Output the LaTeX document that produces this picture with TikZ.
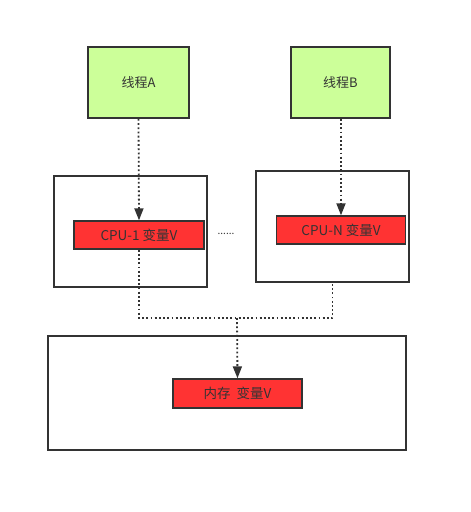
\documentclass[tikz,border=0pt]{standalone}
\usepackage{fontspec}
\newfontfamily\cjk{Noto Sans CJK SC}
\usepackage{xcolor}
\usetikzlibrary{arrows.meta}

\definecolor{threadgreen}{HTML}{CCFF99}
\definecolor{varred}{HTML}{FF3333}
\definecolor{edge}{HTML}{333333}

\tikzset{
  thread/.style={draw=edge, line width=1.8pt, fill=threadgreen,
                 minimum width=101pt, minimum height=71pt, inner sep=0pt,
                 font=\cjk\fontsize{13}{15}\selectfont, text=edge},
  outerbox/.style={draw=edge, line width=1.8pt, fill=white, inner sep=0pt},
  varbox/.style={draw=edge, line width=1.4pt, fill=varred,
                 minimum width=129pt, minimum height=28pt, inner sep=0pt,
                 font=\cjk\fontsize{13.5}{15}\selectfont, text=edge},
  link/.style={edge, line width=1.8pt, dash pattern=on 1.8pt off 2.4pt},
  tip/.style={-{Triangle[length=12pt, width=9pt]}}
}

\begin{document}
\begin{tikzpicture}[x=1pt, y=-1pt]
  \useasboundingbox (0,0) rectangle (471,512);

  % threads
  \node[thread] (threadA) at (138.5,82.5) {线程A};
  \node[thread, minimum width=99pt] (threadB) at (340.5,82.5) {线程B};

  % cpu caches
  \node[outerbox, minimum width=153pt, minimum height=111pt] (cpu1) at (130.5,231.5) {};
  \node[varbox, minimum width=130pt] (cpu1var) at (139,235) {CPU-1 变量V};
  \node[outerbox, minimum width=153pt, minimum height=111pt] (cpuN) at (332.5,226.5) {};
  \node[varbox] (cpuNvar) at (341,230) {CPU-N 变量V};
  \node[font=\cjk\fontsize{10}{12}\selectfont, text=edge] (dots) at (226,234) {......};

  % main memory
  \node[outerbox, minimum width=358pt, minimum height=114pt] (mem) at (227,393) {};
  \node[varbox, minimum height=29pt] (memvar) at (237.5,393.5) {内存\ \ 变量V};

  % links
  \draw[link, tip] (threadA.south) -- (cpu1var.north);
  \draw[link, tip] (threadB.south -| cpuNvar.north) -- (cpuNvar.north);
  \coordinate (join) at (237,318);
  \draw[link] (cpu1var.south) |- (join) -| (cpuN.south);
  \draw[link, tip] (join) -- (memvar.north);
\end{tikzpicture}
\end{document}
